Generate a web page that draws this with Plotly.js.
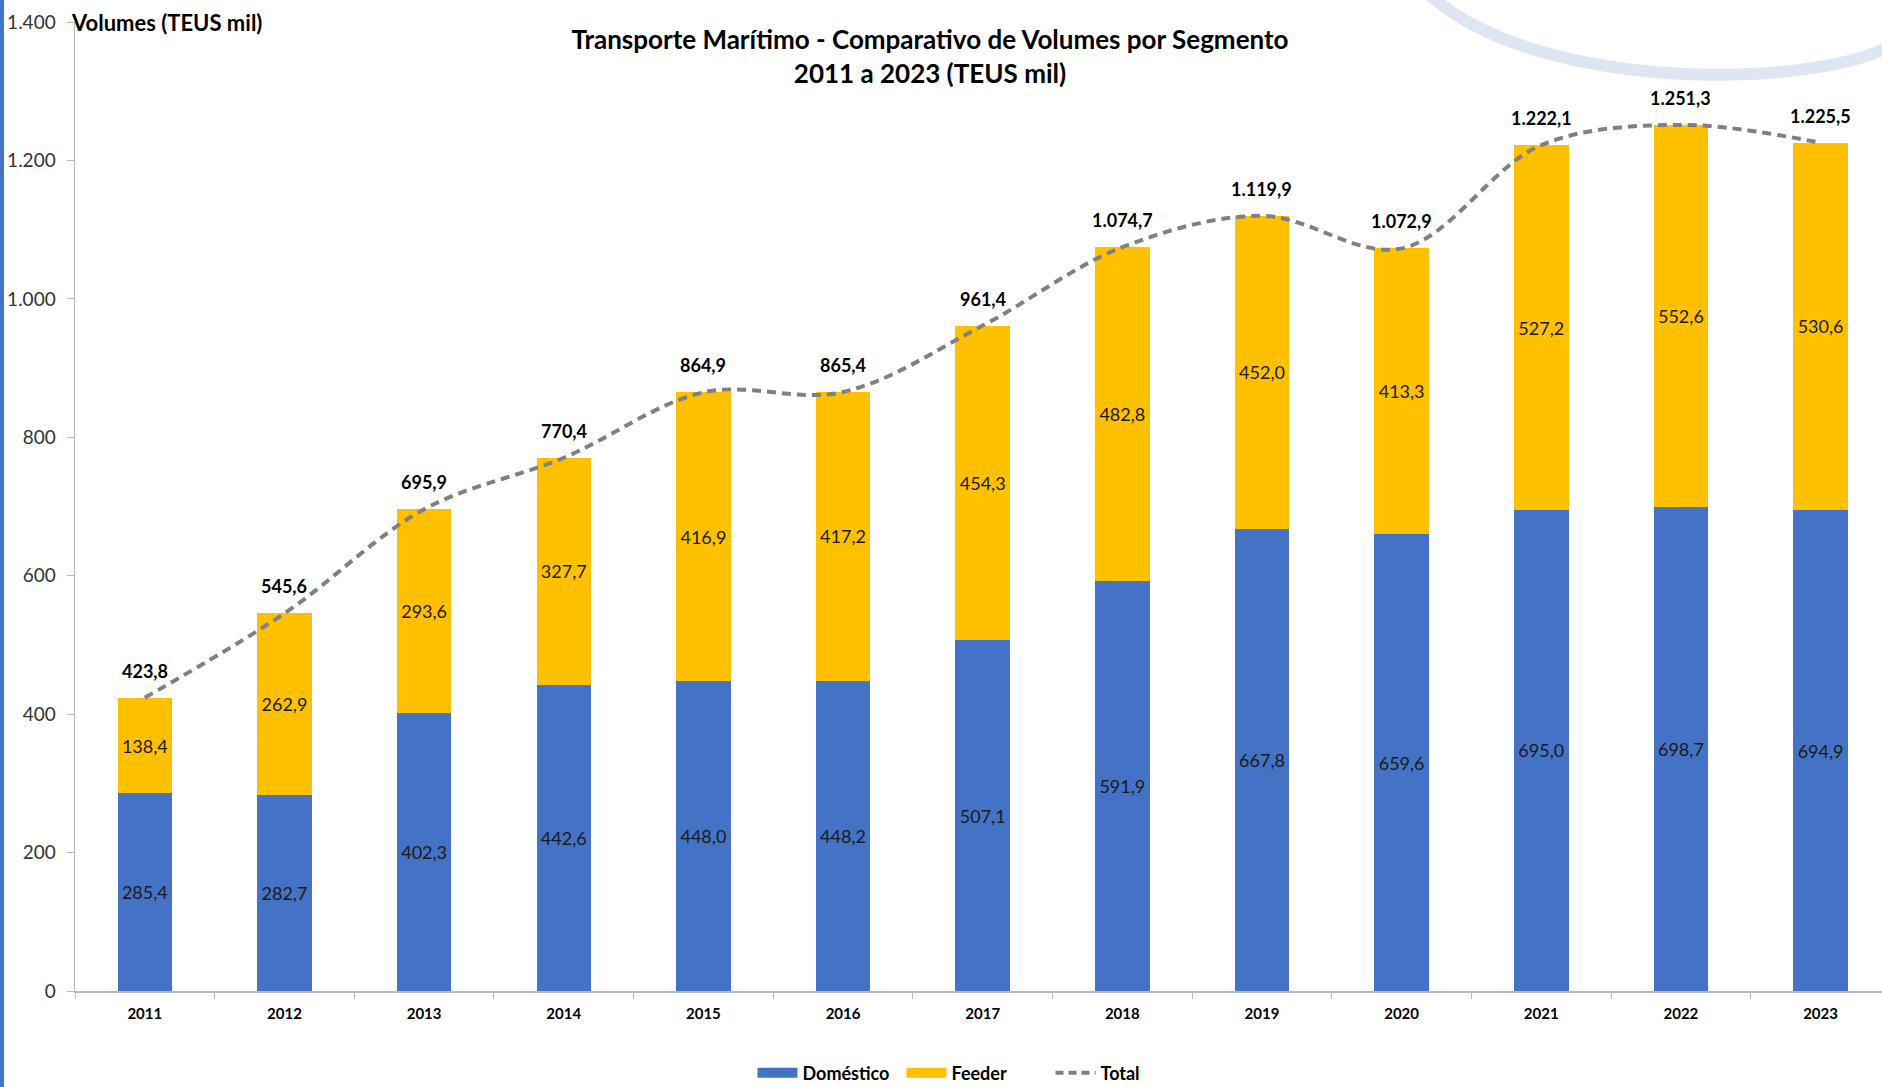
<!DOCTYPE html>
<html>
<head>
<meta charset="utf-8">
<script src="https://cdn.plot.ly/plotly-3.0.1.min.js"></script>
<style>
  html, body { margin: 0; padding: 0; background: #fff; }
  #wrap { position: relative; width: 1882px; height: 1087px; overflow: hidden; }
  #chart { position: absolute; left: 0; top: 0; width: 1882px; height: 1087px; }
  #leftbar { position: absolute; left: 0; top: 0; width: 4px; height: 1087px; background: #4472C4; }
  #deco { position: absolute; left: 0; top: 0; pointer-events: none; }
</style>
</head>
<body>
<div id="wrap">
  <div id="chart"></div>
  <svg id="deco" width="1882" height="1087">
    <path d="M1430,-5 C1540,95 1830,90 1900,40" fill="none" stroke="#dfe6f3" stroke-width="12"/>
  </svg>
  <div id="leftbar"></div>
</div>
<script>
const years = ['2011','2012','2013','2014','2015','2016','2017','2018','2019','2020','2021','2022','2023'];
const domestico = [285.4, 282.7, 402.3, 442.6, 448.0, 448.2, 507.1, 591.9, 667.8, 659.6, 695.0, 698.7, 694.9];
const feeder = [138.4, 262.9, 293.6, 327.7, 416.9, 417.2, 454.3, 482.8, 452.0, 413.3, 527.2, 552.6, 530.6];
const total = [423.8, 545.6, 695.9, 770.4, 864.9, 865.4, 961.4, 1074.7, 1119.9, 1072.9, 1222.1, 1251.3, 1225.5];

const FONT = 'Lato, "Open Sans", sans-serif';
const BLUE = '#4472C4', GOLD = '#FFC000', GREY = '#808080';

function fmtPt(v) {
  const s = v.toFixed(1);
  let [intPart, dec] = s.split('.');
  intPart = intPart.replace(/\B(?=(\d{3})+(?!\d))/g, '.');
  return intPart + ',' + dec;
}

const barText = { family: FONT, size: 18, color: '#1a1a1a' };

const traces = [
  {
    type: 'bar', name: 'Doméstico', x: years, y: domestico, showlegend: false,
    marker: { color: BLUE }, width: 0.39,
    texttemplate: '%{y:.1f}', textposition: 'inside', insidetextanchor: 'middle',
    textangle: 0, constraintext: 'none', textfont: barText, hoverinfo: 'skip'
  },
  {
    type: 'bar', name: 'Feeder', x: years, y: feeder, showlegend: false,
    marker: { color: GOLD }, width: 0.39,
    texttemplate: '%{y:.1f}', textposition: 'inside', insidetextanchor: 'middle',
    textangle: 0, constraintext: 'none', textfont: barText, hoverinfo: 'skip'
  },
  {
    type: 'scatter', mode: 'lines', name: 'Total', x: years, y: total, showlegend: false,
    line: { color: GREY, width: 4, dash: '9px,6px', shape: 'spline', smoothing: 1 },
    hoverinfo: 'skip'
  },
  // legend entries (wide swatches)
  { type: 'scatter', mode: 'lines', name: 'Doméstico', x: [null], y: [null],
    line: { color: BLUE, width: 11 }, hoverinfo: 'skip' },
  { type: 'scatter', mode: 'lines', name: 'Feeder', x: [null], y: [null],
    line: { color: GOLD, width: 11 }, hoverinfo: 'skip' },
  { type: 'scatter', mode: 'lines', name: 'Total', x: [null], y: [null],
    line: { color: GREY, width: 4, dash: '8px,5px' }, hoverinfo: 'skip' }
];

const annotations = years.map((yr, i) => ({
  x: i, y: total[i], xref: 'x', yref: 'y',
  text: '<b>' + fmtPt(total[i]) + '</b>',
  showarrow: false, yanchor: 'middle', yshift: 27,
  font: { family: FONT, size: 18, color: '#000' }
}));
annotations.push({
  xref: 'paper', yref: 'paper', x: 0, y: 1, xanchor: 'left', yanchor: 'middle',
  xshift: -6, text: '<b>Volumes (TEUS mil)</b>', showarrow: false,
  font: { family: FONT, size: 22, color: '#000' }
});

const layout = {
  width: 1882, height: 1087,
  margin: { l: 75, r: 0, t: 22, b: 96, pad: 0, autoexpand: false },
  paper_bgcolor: 'rgba(0,0,0,0)', plot_bgcolor: 'rgba(0,0,0,0)',
  separators: ',.',
  barmode: 'stack',
  showlegend: true,
  font: { family: FONT, color: '#000' },
  title: {
    text: '<b>Transporte Marítimo - Comparativo de Volumes por Segmento</b><br><b>2011 a 2023 (TEUS mil)</b>',
    font: { family: FONT, size: 26, color: '#000' },
    x: 930 / 1882, xanchor: 'center', xref: 'container',
    y: 1 - 49 / 1087, yanchor: 'top', yref: 'container'
  },
  xaxis: {
    type: 'category', range: [-0.5, 12.44], domain: [0, 1],
    showline: true, linecolor: '#b8b8b8', linewidth: 1.5,
    ticks: 'outside', tickson: 'boundaries', ticklen: 6, tickcolor: '#b8b8b8',
    ticklabelstandoff: 8,
    showgrid: false, zeroline: false,
    tickfont: { family: FONT, size: 15, color: '#000', weight: 'bold' }
  },
  yaxis: {
    range: [0, 1400], dtick: 200, tick0: 0, tickformat: ',.0f',
    showline: true, linecolor: '#b8b8b8', linewidth: 1.5,
    ticks: 'outside', ticklen: 7, tickcolor: '#b8b8b8',
    ticklabelstandoff: 7,
    showgrid: false, zeroline: false,
    tickfont: { family: FONT, size: 19, color: '#333' }
  },
  legend: {
    orientation: 'h', x: (976 - 75) / 1807, xref: 'paper', xanchor: 'center',
    y: -(1073 - 991) / 969, yanchor: 'middle',
    font: { family: FONT, size: 18, color: '#000', weight: 'bold' },
    traceorder: 'normal', itemwidth: 40,
    entrywidth: 94, entrywidthmode: 'pixels'
  },
  annotations: annotations
};

Plotly.newPlot('chart', traces, layout, { displayModeBar: false, staticPlot: true });
</script>
</body>
</html>
